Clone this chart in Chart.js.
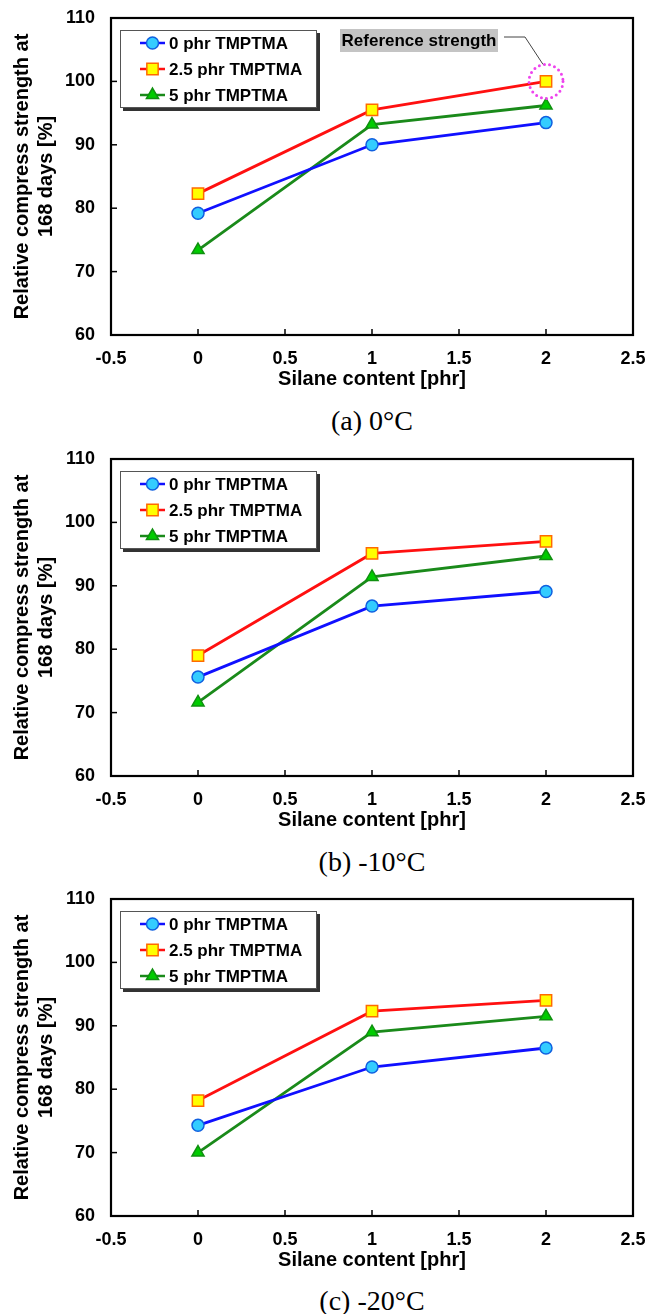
<!DOCTYPE html>
<html>
<head>
<meta charset="utf-8">
<script src="https://cdn.jsdelivr.net/npm/chart.js@4.4.1/dist/chart.umd.min.js"></script>
<style>
body { margin: 0; background: #fff; width: 647px; height: 1314px; position: relative; overflow: hidden; }
.panel { position: absolute; left: 0; width: 647px; height: 400px; }
.caption { position: absolute; left: 111px; width: 522px; text-align: center; font-family: "Liberation Serif", "Times New Roman", serif; font-size: 28px; line-height: 30px; color: #000; }
</style>
</head>
<body>

<canvas id="chartA" class="panel" width="647" height="400" style="top:0px"></canvas>
<div class="caption" style="top:406px">(a) 0°C</div>

<canvas id="chartB" class="panel" width="647" height="400" style="top:441px"></canvas>
<div class="caption" style="top:847px">(b) -10°C</div>

<canvas id="chartC" class="panel" width="647" height="400" style="top:881px"></canvas>
<div class="caption" style="top:1286px">(c) -20°C</div>

<script>
// silane content on the x axis
const silane = [0, 1, 2];
const seriesNames = ["0 phr TMPTMA", "2.5 phr TMPTMA", "5 phr TMPTMA"];

// (a) 0°C
const temp0_tm0 = [79.2, 90.0, 93.5];
const temp0_tm25 = [82.3, 95.5, 100.0];
const temp0_tm5 = [73.4, 93.2, 96.2];

// (b) -10°C
const tempM10_tm0 = [75.6, 86.8, 89.1];
const tempM10_tm25 = [79.0, 95.1, 97.0];
const tempM10_tm5 = [71.6, 91.4, 94.7];

// (c) -20°C
const tempM20_tm0 = [74.3, 83.5, 86.5];
const tempM20_tm25 = [78.2, 92.3, 94.0];
const tempM20_tm5 = [70.0, 89.0, 91.5];

const xTicks = [-0.5, 0, 0.5, 1, 1.5, 2, 2.5];
const yTicks = [60, 70, 80, 90, 100, 110];

const styles = [
    { line: "#1010ff", fill: "#33ccff", border: "#1060e0", point: "circle", r: 6 },
    { line: "#ff1010", fill: "#ffff00", border: "#ff6a00", point: "rect", r: 8 },
    { line: "#1a8a1a", fill: "#00cc00", border: "#109010", point: "triangle", r: 7 }
];

const boldFont = "'Liberation Sans', Arial, sans-serif";

function toPoints(values) {
    return silane.map((x, i) => ({ x: x, y: values[i] }));
}

function drawMarker(ctx, kind, x, y, r, fill, border) {
    ctx.save();
    ctx.fillStyle = fill;
    ctx.strokeStyle = border;
    ctx.lineWidth = 1.5;
    ctx.beginPath();
    if (kind === "circle") {
        ctx.arc(x, y, r, 0, Math.PI * 2);
    } else if (kind === "rect") {
        const s = r * Math.SQRT1_2;
        ctx.rect(x - s, y - s, 2 * s, 2 * s);
    } else {
        const h = r * 1.5;
        const w = r * Math.sqrt(3) / 2;
        ctx.moveTo(x, y - r);
        ctx.lineTo(x + w, y - r + h);
        ctx.lineTo(x - w, y - r + h);
        ctx.closePath();
    }
    ctx.fill();
    ctx.stroke();
    ctx.restore();
}

// frame, inner tick marks, boxed legend and the reference note
const figurePlugin = {
    id: "figure",
    beforeDatasetsDraw(chart) {
        const ctx = chart.ctx;
        const a = chart.chartArea;
        const xs = chart.scales.x;
        const ys = chart.scales.y;
        ctx.save();
        ctx.strokeStyle = "#000";
        ctx.lineWidth = 2.2;
        ctx.strokeRect(a.left, a.top, a.right - a.left, a.bottom - a.top);
        ctx.lineWidth = 1.5;
        xTicks.forEach(v => {
            const px = xs.getPixelForValue(v);
            ctx.beginPath();
            ctx.moveTo(px, a.bottom);
            ctx.lineTo(px, a.bottom - 6);
            ctx.stroke();
        });
        yTicks.forEach(v => {
            const py = ys.getPixelForValue(v);
            ctx.beginPath();
            ctx.moveTo(a.left, py);
            ctx.lineTo(a.left + 6, py);
            ctx.stroke();
        });
        ctx.restore();
    },
    afterDatasetsDraw(chart, args, opts) {
        const ctx = chart.ctx;
        const a = chart.chartArea;

        // legend box
        const bx = a.left + 9, by = a.top + 12, bw = 197, bh = 78;
        ctx.save();
        ctx.fillStyle = "#333";
        ctx.fillRect(bx + 3, by + 3, bw, bh);
        ctx.fillStyle = "#fff";
        ctx.fillRect(bx, by, bw, bh);
        ctx.strokeStyle = "#555";
        ctx.lineWidth = 1;
        ctx.strokeRect(bx + 0.5, by + 0.5, bw - 1, bh - 1);
        ctx.font = "bold 17px " + boldFont;
        ctx.textBaseline = "middle";
        seriesNames.forEach((name, i) => {
            const st = styles[i];
            const ry = by + 13 + i * 26;
            ctx.strokeStyle = st.line;
            ctx.lineWidth = 2.5;
            ctx.beginPath();
            ctx.moveTo(bx + 20, ry);
            ctx.lineTo(bx + 45, ry);
            ctx.stroke();
            drawMarker(ctx, st.point, bx + 32.5, ry, st.r, st.fill, st.border);
            ctx.fillStyle = "#000";
            ctx.fillText(name, bx + 49, ry + 1);
        });
        ctx.restore();

        if (!opts.reference) return;
        const cx = chart.scales.x.getPixelForValue(silane[2]);
        const cy = chart.scales.y.getPixelForValue(temp0_tm25[2]);
        ctx.save();
        // dotted circle
        ctx.strokeStyle = "#ee44ee";
        ctx.lineWidth = 3;
        ctx.lineCap = "round";
        ctx.setLineDash([0, 5.2]);
        ctx.beginPath();
        ctx.arc(cx, cy, 17, 0, Math.PI * 2);
        ctx.stroke();
        ctx.setLineDash([]);
        // leader line
        ctx.strokeStyle = "#444";
        ctx.lineWidth = 1;
        ctx.lineCap = "butt";
        ctx.beginPath();
        ctx.moveTo(cx - 42, a.top + 19);
        ctx.lineTo(cx - 21, a.top + 19);
        ctx.lineTo(cx - 3, cy - 17);
        ctx.stroke();
        // label box
        ctx.fillStyle = "#c4c4c4";
        ctx.fillRect(340, a.top + 11, 158, 23);
        ctx.fillStyle = "#000";
        ctx.font = "bold 17px " + boldFont;
        ctx.textAlign = "center";
        ctx.textBaseline = "middle";
        ctx.fillText("Reference strength", 419, a.top + 23);
        ctx.restore();
    }
};

function makeChart(id, s0, s25, s5, showRef) {
    const series = [s0, s25, s5];
    new Chart(document.getElementById(id), {
        type: "line",
        data: {
            datasets: series.map((vals, i) => ({
                label: seriesNames[i],
                data: toPoints(vals),
                borderColor: styles[i].line,
                borderWidth: 2.8,
                backgroundColor: styles[i].fill,
                pointBackgroundColor: styles[i].fill,
                pointBorderColor: styles[i].border,
                pointBorderWidth: 1.5,
                pointStyle: styles[i].point,
                pointRadius: styles[i].r,
                pointHoverRadius: styles[i].r,
                tension: 0,
                fill: false
            }))
        },
        options: {
            responsive: false,
            animation: false,
            events: [],
            layout: { padding: { top: 18, right: 14, left: 0, bottom: 0 } },
            plugins: {
                legend: { display: false },
                tooltip: { enabled: false },
                figure: { reference: showRef }
            },
            scales: {
                x: {
                    type: "linear",
                    min: -0.5,
                    max: 2.5,
                    grid: { display: false, drawTicks: false },
                    border: { display: false },
                    afterFit(scale) {
                        scale.height = 65;
                        scale.paddingLeft = 0;
                        scale.paddingRight = 0;
                    },
                    ticks: {
                        stepSize: 0.5,
                        padding: 13,
                        color: "#000",
                        callback: v => String(v),
                        font: { family: boldFont, size: 18, weight: "bold" }
                    },
                    title: {
                        display: true,
                        text: "Silane content [phr]",
                        color: "#000",
                        padding: { top: 0, bottom: 9 },
                        font: { family: boldFont, size: 20, weight: "bold" }
                    }
                },
                y: {
                    min: 60,
                    max: 110,
                    grid: { display: false, drawTicks: false },
                    border: { display: false },
                    afterFit(scale) {
                        scale.width = 111;
                        scale.paddingTop = 0;
                        scale.paddingBottom = 0;
                    },
                    ticks: {
                        stepSize: 10,
                        padding: 16,
                        color: "#000",
                        font: { family: boldFont, size: 18, weight: "bold" }
                    },
                    title: {
                        display: true,
                        text: ["Relative compress strength at", "168 days [%]"],
                        color: "#000",
                        padding: { top: 10, bottom: 0 },
                        font: { family: boldFont, size: 20, weight: "bold", lineHeight: 1.2 }
                    }
                }
            }
        },
        plugins: [figurePlugin]
    });
}

makeChart("chartA", temp0_tm0, temp0_tm25, temp0_tm5, true);
makeChart("chartB", tempM10_tm0, tempM10_tm25, tempM10_tm5, false);
makeChart("chartC", tempM20_tm0, tempM20_tm25, tempM20_tm5, false);
</script>
</body>
</html>
